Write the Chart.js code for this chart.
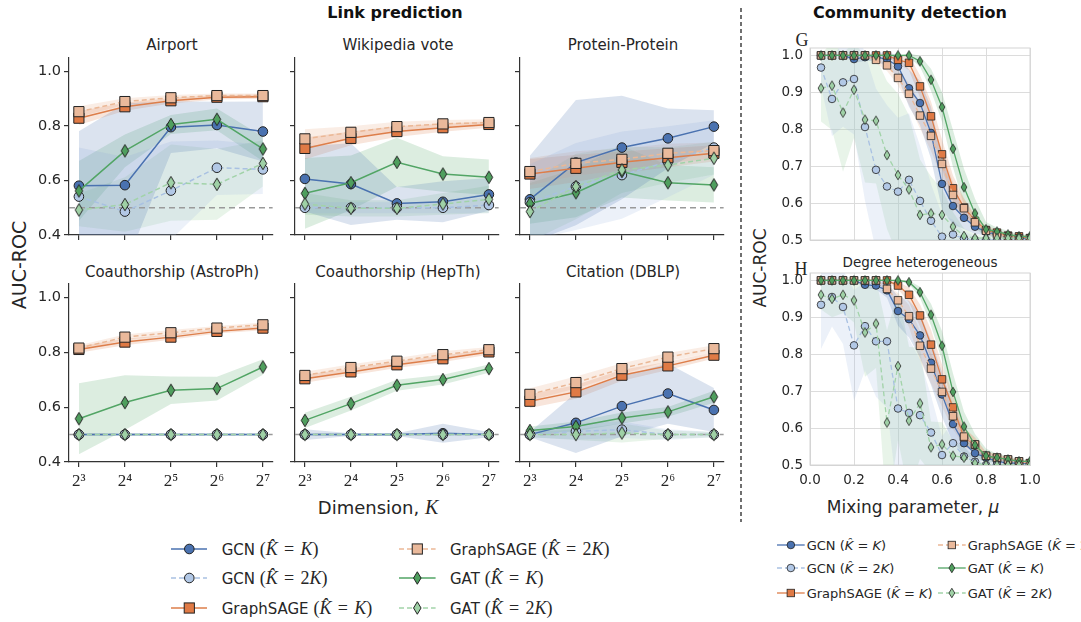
<!DOCTYPE html>
<html>
<head>
<meta charset="utf-8">
<script src="https://cdn.jsdelivr.net/npm/chart.js@4.4.1/dist/chart.umd.min.js"></script>
<style>
body { margin: 0; width: 1081px; height: 622px; overflow: hidden; background: #fff; position: relative;
       font-family: "DejaVu Sans", sans-serif; color: #262626; }
canvas { position: absolute; }
.t { position: absolute; white-space: nowrap; transform: translate(-50%, -50%); }
.rot { transform: translate(-50%, -50%) rotate(-90deg); }
.hd { font-weight: bold; font-size: 16px; color: #111; }
.pt { font-size: 15px; }
.serif { font-family: "Liberation Serif", serif; }
.leg { position: absolute; white-space: nowrap; transform: translateY(-50%); }
.lbox { position: absolute; width: 0; height: 0; }
.lbox svg { position: absolute; left: 0; }
.mx { font-family: "Liberation Serif", serif; font-size: 18px; }
.mx .eq { margin: 0 .35em; font-style: normal; }
</style>
</head>
<body>

<div class="t hd" style="left:395px;top:12px">Link prediction</div>
<div class="t hd" style="left:910px;top:12px">Community detection</div>
<svg style="position:absolute;left:738px;top:0" width="6" height="622">
  <line x1="3" y1="8" x2="3" y2="522" stroke="#111" stroke-width="1.2" stroke-dasharray="4 3"/>
</svg>

<div class="t pt" style="left:172px;top:45px">Airport</div>
<div class="t pt" style="left:398px;top:45px">Wikipedia vote</div>
<div class="t pt" style="left:623px;top:45px">Protein-Protein</div>
<div class="t pt" style="left:172px;top:272px">Coauthorship (AstroPh)</div>
<div class="t pt" style="left:398px;top:272px">Coauthorship (HepTh)</div>
<div class="t pt" style="left:623px;top:272px">Citation (DBLP)</div>

<div class="t rot" style="left:19px;top:265px;font-size:19px">AUC-ROC</div>
<div class="t" style="left:378px;top:507px;font-size:18px">Dimension, <i class="serif" style="font-size:20px">K</i></div>

<div class="t serif" style="left:802px;top:40px;font-size:18px">G</div>
<div class="t serif" style="left:801px;top:269px;font-size:18px">H</div>
<div class="t" style="left:920px;top:262px;font-size:13.5px">Degree heterogeneous</div>
<div class="t rot" style="left:760px;top:268px;font-size:17px">AUC-ROC</div>
<div class="t" style="left:913px;top:507px;font-size:17px">Mixing parameter, <i>μ</i></div>

<script>
// ---- link prediction data (rows: Airport, Wikipedia vote, Protein-Protein, AstroPh, HepTh, DBLP) ----
const dims = [3, 4, 5, 6, 7]; // log2 of K
const dimLabels = ['2³', '2⁴', '2⁵', '2⁶', '2⁷'];
const linkYTicks = [0.4, 0.6, 0.8, 1.0];
const chance = 0.5;

const gcnK = [
  [0.581, 0.583, 0.796, 0.804, 0.780],
  [0.606, 0.587, 0.516, 0.522, 0.549],
  [0.531, 0.666, 0.721, 0.755, 0.798],
  [0.500, 0.500, 0.500, 0.500, 0.500],
  [0.500, 0.500, 0.500, 0.505, 0.500],
  [0.500, 0.543, 0.604, 0.650, 0.590],
];
const gcn2K = [
  [0.541, 0.486, 0.563, 0.647, 0.641],
  [0.500, 0.500, 0.500, 0.500, 0.510],
  [0.520, 0.578, 0.620, 0.669, 0.721],
  [0.500, 0.500, 0.500, 0.500, 0.500],
  [0.500, 0.500, 0.500, 0.500, 0.500],
  [0.500, 0.512, 0.518, 0.500, 0.500],
];
const sageK = [
  [0.829, 0.871, 0.893, 0.906, 0.908],
  [0.718, 0.755, 0.780, 0.794, 0.806],
  [0.624, 0.645, 0.667, 0.684, 0.700],
  [0.811, 0.838, 0.856, 0.877, 0.889],
  [0.704, 0.729, 0.755, 0.777, 0.802],
  [0.622, 0.656, 0.717, 0.751, 0.790],
];
const sage2K = [
  [0.853, 0.890, 0.904, 0.912, 0.912],
  [0.753, 0.777, 0.798, 0.808, 0.813],
  [0.633, 0.663, 0.678, 0.700, 0.710],
  [0.816, 0.856, 0.872, 0.889, 0.901],
  [0.716, 0.745, 0.768, 0.792, 0.810],
  [0.647, 0.690, 0.741, 0.783, 0.814],
];
const gatK = [
  [0.562, 0.709, 0.806, 0.825, 0.716],
  [0.553, 0.592, 0.667, 0.624, 0.612],
  [0.516, 0.555, 0.633, 0.592, 0.584],
  [0.558, 0.617, 0.662, 0.668, 0.747],
  [0.552, 0.613, 0.680, 0.701, 0.741],
  [0.515, 0.530, 0.561, 0.583, 0.638],
];
const gat2K = [
  [0.492, 0.512, 0.592, 0.586, 0.663],
  [0.514, 0.498, 0.498, 0.514, 0.531],
  [0.486, 0.578, 0.639, 0.657, 0.682],
  [0.500, 0.500, 0.500, 0.500, 0.500],
  [0.500, 0.500, 0.500, 0.500, 0.500],
  [0.500, 0.500, 0.506, 0.500, 0.500],
];
// spread of the shaded bands (half width)
const gcnKErr = [
  [0.20, 0.30, 0.095, 0.085, 0.11],
  [0.12, 0.15, 0.06, 0.075, 0.06],
  [0.16, 0.23, 0.19, 0.11, 0.06],
  [0.003, 0.003, 0.003, 0.003, 0.003],
  [0.02, 0.005, 0.005, 0.035, 0.01],
  [0.01, 0.11, 0.11, 0.11, 0.08],
];
const gcn2KErr = [
  [0.18, 0.20, 0.18, 0.10, 0.09],
  [0.02, 0.02, 0.02, 0.02, 0.03],
  [0.14, 0.16, 0.16, 0.13, 0.10],
  [0.003, 0.003, 0.003, 0.003, 0.003],
  [0.005, 0.005, 0.005, 0.005, 0.005],
  [0.01, 0.03, 0.03, 0.02, 0.01],
];
const sageKErr = [
  [0.025, 0.015, 0.01, 0.008, 0.008],
  [0.04, 0.025, 0.02, 0.015, 0.012],
  [0.055, 0.05, 0.04, 0.035, 0.03],
  [0.012, 0.012, 0.01, 0.008, 0.008],
  [0.015, 0.012, 0.012, 0.012, 0.01],
  [0.025, 0.025, 0.02, 0.015, 0.012],
];
const sage2KErr = [
  [0.02, 0.012, 0.01, 0.008, 0.008],
  [0.035, 0.022, 0.018, 0.014, 0.012],
  [0.05, 0.045, 0.04, 0.035, 0.03],
  [0.01, 0.01, 0.01, 0.008, 0.008],
  [0.014, 0.012, 0.012, 0.012, 0.01],
  [0.022, 0.022, 0.02, 0.015, 0.012],
];
const gatKErr = [
  [0.11, 0.06, 0.035, 0.04, 0.045],
  [0.13, 0.10, 0.09, 0.065, 0.065],
  [0.075, 0.09, 0.095, 0.065, 0.065],
  [0.13, 0.10, 0.05, 0.043, 0.028],
  [0.028, 0.025, 0.02, 0.018, 0.015],
  [0.015, 0.018, 0.02, 0.018, 0.022],
];
const gat2KErr = [
  [0.06, 0.10, 0.14, 0.13, 0.085],
  [0.04, 0.03, 0.03, 0.04, 0.05],
  [0.11, 0.12, 0.085, 0.065, 0.06],
  [0.003, 0.003, 0.003, 0.003, 0.003],
  [0.003, 0.003, 0.003, 0.003, 0.003],
  [0.01, 0.02, 0.035, 0.015, 0.01],
];

// ---- community detection data ----
const mixing = [0.05, 0.10, 0.15, 0.20, 0.25, 0.30, 0.35, 0.40, 0.45, 0.50,
                0.55, 0.60, 0.65, 0.70, 0.75, 0.80, 0.85, 0.90, 0.95, 1.00];
const mixTicks = [0, 0.2, 0.4, 0.6, 0.8, 1.0];
const commYTicks = [0.5, 0.6, 0.7, 0.8, 0.9, 1.0];

// G: standard
const sbmGcnK   = [1, 1, 1, 0.99, 0.995, 0.995, 0.99, 0.97, 0.911, 0.871, 0.79, 0.652, 0.592, 0.56, 0.536, 0.522, 0.515, 0.51, 0.505, 0.505];
const sbmGcn2K  = [0.967, 0.882, 0.927, 0.936, 0.806, 0.69, 0.645, 0.631, 0.663, 0.606, 0.552, 0.509, 0.515, 0.504, 0.5, 0.5, 0.5, 0.5, 0.5, 0.5];
const sbmSageK  = [1, 1, 1, 1, 1, 1, 1, 0.988, 0.98, 0.916, 0.835, 0.732, 0.64, 0.588, 0.552, 0.527, 0.52, 0.512, 0.51, 0.505];
const sbmSage2K = [1, 1, 1, 1, 1, 0.988, 0.973, 0.939, 0.896, 0.837, 0.782, 0.706, 0.622, 0.586, 0.548, 0.525, 0.515, 0.51, 0.505, 0.505];
const sbmGatK   = [1, 1, 1, 1, 1, 1, 1, 1, 1, 0.984, 0.934, 0.86, 0.747, 0.643, 0.572, 0.529, 0.523, 0.515, 0.51, 0.51];
const sbmGat2K  = [0.911, 0.918, 0.845, 0.907, 0.826, 0.823, 0.73, 0.676, 0.637, 0.568, 0.572, 0.568, 0.536, 0.511, 0.505, 0.505, 0.505, 0.505, 0.505, 0.505];
const sbmGcnKErr   = [0, 0, 0, 0.01, 0.01, 0.01, 0.02, 0.03, 0.05, 0.06, 0.07, 0.07, 0.05, 0.03, 0.02, 0.01, 0.01, 0.005, 0.005, 0.005];
const sbmGcn2KErr  = [0.05, 0.1, 0.12, 0.15, 0.2, 0.22, 0.22, 0.2, 0.18, 0.15, 0.1, 0.06, 0.04, 0.02, 0.01, 0.005, 0.005, 0.005, 0.005, 0.005];
const sbmSageKErr  = [0, 0, 0, 0, 0, 0, 0.005, 0.01, 0.02, 0.03, 0.04, 0.04, 0.035, 0.025, 0.015, 0.01, 0.01, 0.005, 0.005, 0.005];
const sbmSage2KErr = [0, 0, 0, 0, 0, 0.01, 0.015, 0.02, 0.03, 0.035, 0.04, 0.04, 0.035, 0.025, 0.015, 0.01, 0.01, 0.005, 0.005, 0.005];
const sbmGatKErr   = [0, 0, 0, 0, 0, 0, 0, 0, 0.005, 0.015, 0.03, 0.04, 0.05, 0.05, 0.04, 0.02, 0.01, 0.01, 0.005, 0.005];
const sbmGat2KErr  = [0.09, 0.12, 0.16, 0.13, 0.17, 0.17, 0.2, 0.22, 0.2, 0.15, 0.1, 0.07, 0.04, 0.02, 0.01, 0.005, 0.005, 0.005, 0.005, 0.005];

// H: degree heterogeneous
const degGcnK   = [1, 1, 1, 1, 0.988, 0.986, 0.973, 0.917, 0.895, 0.851, 0.777, 0.691, 0.611, 0.559, 0.532, 0.52, 0.51, 0.505, 0.505, 0.505];
const degGcn2K  = [0.934, 0.955, 0.928, 0.824, 0.876, 0.835, 0.835, 0.653, 0.641, 0.635, 0.588, 0.527, 0.559, 0.523, 0.509, 0.5, 0.5, 0.5, 0.5, 0.5];
const degSageK  = [1, 1, 1, 1, 1, 1, 1, 0.986, 0.961, 0.905, 0.826, 0.732, 0.656, 0.575, 0.555, 0.525, 0.52, 0.515, 0.51, 0.505];
const degSage2K = [1, 1, 1, 1, 1, 1, 0.977, 0.946, 0.903, 0.823, 0.761, 0.698, 0.632, 0.577, 0.556, 0.525, 0.52, 0.515, 0.51, 0.505];
const degGatK   = [1, 1, 1, 1, 1, 1, 1, 1, 0.995, 0.968, 0.907, 0.823, 0.698, 0.604, 0.554, 0.525, 0.52, 0.515, 0.51, 0.51];
const degGat2K  = [0.961, 0.95, 0.961, 0.946, 0.859, 0.883, 0.615, 0.768, 0.62, 0.667, 0.548, 0.556, 0.525, 0.52, 0.505, 0.5, 0.5, 0.5, 0.5, 0.5];
const degGcnKErr   = [0, 0, 0, 0, 0.01, 0.01, 0.02, 0.04, 0.05, 0.06, 0.06, 0.06, 0.05, 0.03, 0.02, 0.01, 0.01, 0.005, 0.005, 0.005];
const degGcn2KErr  = [0.12, 0.08, 0.1, 0.15, 0.12, 0.15, 0.18, 0.25, 0.2, 0.15, 0.1, 0.05, 0.06, 0.03, 0.01, 0.005, 0.005, 0.005, 0.005, 0.005];
const degSageKErr  = [0, 0, 0, 0, 0, 0, 0.005, 0.01, 0.02, 0.03, 0.04, 0.04, 0.035, 0.025, 0.02, 0.01, 0.01, 0.005, 0.005, 0.005];
const degSage2KErr = [0, 0, 0, 0, 0, 0.005, 0.01, 0.02, 0.03, 0.04, 0.04, 0.04, 0.035, 0.025, 0.015, 0.01, 0.01, 0.005, 0.005, 0.005];
const degGatKErr   = [0, 0, 0, 0, 0, 0, 0, 0, 0.005, 0.015, 0.03, 0.04, 0.05, 0.04, 0.03, 0.02, 0.01, 0.01, 0.005, 0.005];
const degGat2KErr  = [0.04, 0.05, 0.05, 0.06, 0.12, 0.12, 0.25, 0.2, 0.2, 0.15, 0.07, 0.06, 0.04, 0.03, 0.01, 0.005, 0.005, 0.005, 0.005, 0.005];

// ---- styles ----
Chart.defaults.font.family = '"DejaVu Sans", sans-serif';
Chart.defaults.color = '#262626';
Chart.defaults.animation = false;

const series = [
  { name: 'GCN',       k: 'K',  line: '#4a72b0', fill: '#4a72b0', band: 'rgba(74,114,176,0.2)',   dash: [],     marker: 'circle' },
  { name: 'GCN',       k: '2K', line: '#a9c1e2', fill: '#b2c8e6', band: 'rgba(169,193,226,0.22)', dash: [5, 3], marker: 'circle' },
  { name: 'GraphSAGE', k: 'K',  line: '#dd7e4a', fill: '#e07a45', band: 'rgba(221,126,74,0.2)',   dash: [],     marker: 'rect' },
  { name: 'GraphSAGE', k: '2K', line: '#ebb896', fill: '#eab99b', band: 'rgba(235,184,150,0.25)', dash: [5, 3], marker: 'rect' },
  { name: 'GAT',       k: 'K',  line: '#52a565', fill: '#4f9f5e', band: 'rgba(82,165,101,0.2)',   dash: [],     marker: 'diamond' },
  { name: 'GAT',       k: '2K', line: '#a2d3a9', fill: '#9fd1a6', band: 'rgba(162,211,169,0.25)', dash: [5, 3], marker: 'diamond' },
];
const linkMeans = [gcnK, gcn2K, sageK, sage2K, gatK, gat2K];
const linkErrs = [gcnKErr, gcn2KErr, sageKErr, sage2KErr, gatKErr, gat2KErr];
const sbmMeans = [sbmGcnK, sbmGcn2K, sbmSageK, sbmSage2K, sbmGatK, sbmGat2K];
const sbmErrs = [sbmGcnKErr, sbmGcn2KErr, sbmSageKErr, sbmSage2KErr, sbmGatKErr, sbmGat2KErr];
const degMeans = [degGcnK, degGcn2K, degSageK, degSage2K, degGatK, degGat2K];
const degErrs = [degGcnKErr, degGcn2KErr, degSageKErr, degSage2KErr, degGatKErr, degGat2KErr];

function diamondImg(fill, w, h, lw) {
  const c = document.createElement('canvas');
  c.width = Math.ceil(w + 2); c.height = Math.ceil(h + 2);
  const g = c.getContext('2d');
  const cx = c.width / 2, cy = c.height / 2;
  g.beginPath();
  g.moveTo(cx, cy - h / 2); g.lineTo(cx + w / 2, cy); g.lineTo(cx, cy + h / 2); g.lineTo(cx - w / 2, cy);
  g.closePath();
  g.fillStyle = fill; g.fill();
  g.lineWidth = lw; g.strokeStyle = '#222'; g.stroke();
  return c;
}

function makeDatasets(xs, means, errs, sz, clip) {
  const out = [];
  series.forEach((s, i) => {
    const m = means[i], e = errs[i];
    out.push({ data: xs.map((x, j) => ({ x, y: m[j] - e[j] })), borderWidth: 0, pointRadius: 0, fill: false, order: 100 });
    out.push({ data: xs.map((x, j) => ({ x, y: m[j] + e[j] })), borderWidth: 0, pointRadius: 0, fill: '-1',
               backgroundColor: s.band, order: 100 });
    const ds = {
      data: xs.map((x, j) => ({ x, y: m[j] })),
      borderColor: s.line, borderWidth: sz.lw, borderDash: s.dash,
      pointBackgroundColor: s.fill, pointBorderColor: '#222', pointBorderWidth: sz.pbw,
      fill: false, tension: 0, order: 10 - i,
    };
    if (clip !== undefined) ds.clip = clip;
    if (s.marker === 'circle') { ds.pointStyle = 'circle'; ds.pointRadius = sz.circle; }
    else if (s.marker === 'rect') { ds.pointStyle = 'rect'; ds.pointRadius = sz.rect; }
    else { ds.pointStyle = diamondImg(s.fill, sz.dw, sz.dh, sz.pbw); ds.pointRadius = sz.circle; }
    out.push(ds);
  });
  return out;
}

function mountCanvas(left, top, w, h) {
  const c = document.createElement('canvas');
  c.width = Math.round(w); c.height = Math.round(h);
  c.style.left = left + 'px'; c.style.top = top + 'px';
  document.body.appendChild(c);
  return c;
}

// ---- link prediction panels ----
const linkCols = [69.3, 295, 520];
const linkRows = [{ top: 58.1, h: 177.2 }, { top: 283.6, h: 178.1 }];
const linkW = 206;
const xMin = 2.785, xMax = 7.215;
const linkSize = { lw: 1.5, pbw: 1, circle: 4.8, rect: 7.2, dw: 7.5, dh: 12.5 };

for (let p = 0; p < 6; p++) {
  const col = p % 3, row = Math.floor(p / 3);
  const showY = col === 0, showX = row === 1;
  const yW = 50, xH = showX ? 40 : 16, padTop = 16, padRight = 6;
  const plotLeft = linkCols[col], plotTop = linkRows[row].top, plotH = linkRows[row].h;
  const cv = mountCanvas(plotLeft - yW, plotTop - padTop, yW + linkW + padRight, padTop + plotH + xH);

  const means = linkMeans.map(a => a[p]);
  const errs = linkErrs.map(a => a[p]);
  const datasets = makeDatasets(dims, means, errs, linkSize);
  datasets.push({
    data: [{ x: xMin, y: chance }, { x: xMax, y: chance }],
    borderColor: '#9a9a9a', borderWidth: 1.5, borderDash: [6, 4], pointRadius: 0, fill: false, order: 50,
  });

  new Chart(cv, {
    type: 'line',
    data: { datasets },
    options: {
      responsive: false,
      layout: { padding: { top: padTop, right: padRight, left: 0, bottom: 0 } },
      plugins: { legend: { display: false }, tooltip: { enabled: false } },
      scales: {
        x: {
          type: 'linear', min: xMin, max: xMax,
          afterBuildTicks: s => { s.ticks = dims.map(v => ({ value: v })); },
          afterFit: s => { s.height = xH; },
          ticks: { callback: (v, i) => showX ? dimLabels[i] : '', padding: 4, maxRotation: 0,
                   font: { family: '"Liberation Serif", serif', size: 17 }, color: '#262626' },
          grid: { drawOnChartArea: false, drawTicks: true, tickLength: 5, color: '#333', lineWidth: 1.2 },
          border: { color: '#333', width: 1.2 },
        },
        y: {
          type: 'linear', min: 0.4, max: 1.05,
          afterBuildTicks: s => { s.ticks = linkYTicks.map(v => ({ value: v })); },
          afterFit: s => { s.width = yW; },
          ticks: { callback: v => showY ? v.toFixed(1) : '', padding: 3, font: { size: 14.5 }, color: '#262626' },
          grid: { drawOnChartArea: false, drawTicks: true, tickLength: 5, color: '#333', lineWidth: 1.2 },
          border: { color: '#333', width: 1.2 },
        },
      },
    },
  });
}

// ---- community detection panels ----
const framePlugin = {
  id: 'frame',
  beforeDatasetsDraw(chart) {
    const { ctx, chartArea: a } = chart;
    ctx.save();
    ctx.strokeStyle = '#d4d4d4'; ctx.lineWidth = 1;
    ctx.strokeRect(a.left, a.top, a.right - a.left, a.bottom - a.top);
    ctx.restore();
  },
};
const commSize = { lw: 1.3, pbw: 0.8, circle: 3.8, rect: 5.3, dw: 5.8, dh: 9.5 };
const commPanels = [
  { top: 48.3, h: 191.7, means: sbmMeans, errs: sbmErrs, showX: false },
  { top: 272.7, h: 192.3, means: degMeans, errs: degErrs, showX: true },
];
commPanels.forEach(cp => {
  const yW = 45, xH = cp.showX ? 30 : 18, padTop = 18, padRight = 18, plotW = 220;
  const cv = mountCanvas(810 - yW, cp.top - padTop, yW + plotW + padRight, padTop + cp.h + xH);
  new Chart(cv, {
    type: 'line',
    data: { datasets: makeDatasets(mixing, cp.means, cp.errs, commSize, 0) },
    plugins: [framePlugin],
    options: {
      responsive: false,
      layout: { padding: { top: padTop, right: padRight, left: 0, bottom: 0 } },
      plugins: { legend: { display: false }, tooltip: { enabled: false } },
      scales: {
        x: {
          type: 'linear', min: 0, max: 1,
          afterBuildTicks: s => { s.ticks = mixTicks.map(v => ({ value: v })); },
          afterFit: s => { s.height = xH; },
          ticks: { callback: v => cp.showX ? v.toFixed(1) : '', padding: 7, maxRotation: 0,
                   font: { size: 13.5 }, color: '#262626' },
          grid: { color: '#dcdcdc', drawTicks: false },
          border: { color: '#d4d4d4' },
        },
        y: {
          type: 'linear', min: 0.5, max: 1.02,
          afterBuildTicks: s => { s.ticks = commYTicks.map(v => ({ value: v })); },
          afterFit: s => { s.width = yW; },
          ticks: { callback: v => v.toFixed(1), padding: 7, font: { size: 13.5 }, color: '#262626' },
          grid: { color: '#dcdcdc', drawTicks: false },
          border: { color: '#d4d4d4' },
        },
      },
    },
  });
});

// ---- legends ----
function legendSvg(s, w, sz) {
  const h = 18, cy = h / 2, cx = w / 2;
  let m;
  if (s.marker === 'circle') m = `<circle cx="${cx}" cy="${cy}" r="${sz.circle}" fill="${s.fill}" stroke="#222" stroke-width="${sz.pbw}"/>`;
  else if (s.marker === 'rect') { const a = sz.rect * Math.SQRT1_2; m = `<rect x="${cx - a}" y="${cy - a}" width="${2 * a}" height="${2 * a}" fill="${s.fill}" stroke="#222" stroke-width="${sz.pbw}"/>`; }
  else m = `<polygon points="${cx},${cy - sz.dh / 2} ${cx + sz.dw / 2},${cy} ${cx},${cy + sz.dh / 2} ${cx - sz.dw / 2},${cy}" fill="${s.fill}" stroke="#222" stroke-width="${sz.pbw}"/>`;
  const dash = s.dash.length ? `stroke-dasharray="${s.dash.join(' ')}"` : '';
  return `<svg width="${w}" height="${h}" style="top:${-h / 2}px"><line x1="0" y1="${cy}" x2="${w}" y2="${cy}" stroke="${s.line}" stroke-width="${sz.lw}" ${dash}/>${m}</svg>`;
}
function addLegend(cfg) {
  series.forEach((s, i) => {
    const col = Math.floor(i / 3), row = i % 3;
    const y = cfg.rows[row];
    const box = document.createElement('div');
    box.className = 'lbox';
    box.style.left = cfg.lineX[col] + 'px';
    box.style.top = y + 'px';
    box.innerHTML = legendSvg(s, cfg.lineW, cfg.size);
    document.body.appendChild(box);
    const k = s.k === 'K' ? '<i>K</i>' : '2<i>K</i>';
    const txt = document.createElement('div');
    txt.className = 'leg';
    txt.style.cssText = `left:${cfg.textX[col]}px;top:${y}px;font-size:${cfg.font}px;`;
    txt.innerHTML = cfg.math(s.name, k);
    document.body.appendChild(txt);
  });
}
addLegend({
  rows: [549.3, 578.3, 608.3], lineX: [170.7, 399.3], textX: [221.7, 450], lineW: 36.6, font: 15,
  size: { lw: 1.5, pbw: 1, circle: 4.8, rect: 7.2, dw: 7.5, dh: 12.5 },
  math: (n, k) => `${n} <span class="mx">(<i>K&#770;</i><span class="eq">=</span>${k})</span>`,
});
addLegend({
  rows: [545, 568.3, 592.7], lineX: [777.3, 938.3], textX: [806.7, 967.7], lineW: 27.7, font: 13,
  size: { lw: 1.3, pbw: 0.8, circle: 3.8, rect: 5.3, dw: 5.8, dh: 9.5 },
  math: (n, k) => `${n} (<i>K&#770;</i> = ${k})`,
});
</script>
</body>
</html>
